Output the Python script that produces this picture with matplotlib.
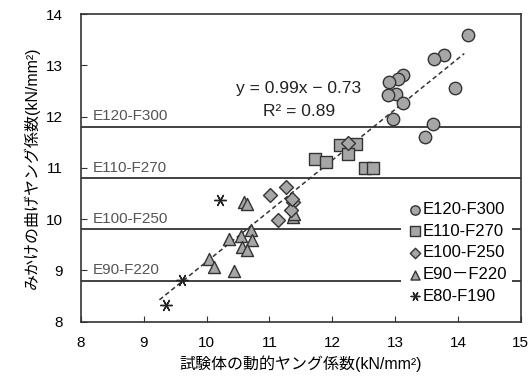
import matplotlib
matplotlib.use("Agg")
import matplotlib.pyplot as plt
import numpy as np

plt.rcParams['font.family'] = ['Liberation Sans', 'Noto Sans CJK JP']

# E120-F300
c_x = [14.16, 13.77, 13.62, 13.13, 13.05, 12.90, 13.02, 12.88, 13.13, 13.96, 12.96, 13.61, 13.48]
c_y = [13.60, 13.21, 13.13, 12.81, 12.74, 12.67, 12.45, 12.42, 12.26, 12.55, 11.96, 11.85, 11.60]
# E110-F270
s_x = [11.73, 11.90, 12.12, 12.38, 12.25, 12.52, 12.65]
s_y = [11.18, 11.12, 11.44, 11.47, 11.28, 11.00, 11.00]
# E100-F250
d_x = [12.25, 11.01, 11.26, 11.37, 11.34, 11.14, 11.36]
d_y = [11.49, 10.48, 10.63, 10.33, 10.17, 9.99, 10.39]
# E90-F220
t_x = [10.60, 10.65, 11.37, 11.39, 10.36, 10.54, 10.70, 10.73, 10.57, 10.65, 10.04, 10.12, 10.44]
t_y = [10.33, 10.30, 10.04, 10.10, 9.62, 9.68, 9.78, 9.59, 9.46, 9.40, 9.23, 9.07, 8.99]
# E80-F190
a_x = [10.21, 9.61, 9.36]
a_y = [10.37, 8.82, 8.32]

grades = ['E120-F300', 'E110-F270', 'E100-F250', 'E90-F220']
grade_lines = [11.8, 10.8, 9.8, 8.8]
slope, icpt = 0.99, -0.73

fig = plt.figure(figsize=(5.32, 3.79), dpi=100)
ax = fig.add_axes([0.152, 0.151, 0.827, 0.812])

for g, yv in zip(grades, grade_lines):
    ax.axhline(yv, color='#333333', lw=1.3, zorder=1)
    ax.text(8.19, yv + 0.07, g, fontsize=11, color='#555555', ha='left', va='bottom')

xr = np.array([9.25, 14.1])
ax.plot(xr, slope * xr + icpt, ls=(0, (3, 2)), color='#333333', lw=1.1, zorder=2)

fc, ec = '#a6a6a6', '#333333'
ax.scatter(c_x, c_y, s=80, marker='o', fc=fc, ec=ec, lw=1.0, zorder=3, label='E120-F300')
ax.scatter(s_x, s_y, s=85, marker='s', fc=fc, ec=ec, lw=1.0, zorder=3, label='E110-F270')
ax.scatter(d_x, d_y, s=50, marker='D', fc=fc, ec=ec, lw=1.0, zorder=4, label='E100-F250')
ax.scatter(t_x, t_y, s=75, marker='^', fc=fc, ec=ec, lw=1.0, zorder=3, label='E90－F220')
ax.scatter(a_x, a_y, s=70, marker=(6, 2, 90), c='#222222', lw=1.0, zorder=3, label='E80-F190')

ax.text(11.47, 12.55, 'y = 0.99x − 0.73', fontsize=12.5, ha='center', va='center', color='#222222')
ax.text(11.47, 12.09, 'R² = 0.89', fontsize=12.5, ha='center', va='center', color='#222222')

leg = ax.legend(loc='lower right', bbox_to_anchor=(1.0, 0.015), frameon=True, fontsize=12,
                handletextpad=0.0, handlelength=1.0, labelspacing=0.4, borderpad=0.3,
                fancybox=False, edgecolor='none', facecolor='white', framealpha=1.0,
                markerscale=0.75)

ax.set_xlim(8, 15)
ax.set_ylim(8, 14)
ax.set_xticks(range(8, 16))
ax.set_yticks(range(8, 15))
ax.tick_params(direction='in', length=4, labelsize=11, color='#333333')
ax.tick_params(axis='x', pad=10)
ax.tick_params(axis='y', pad=13)
for sp in ax.spines.values():
    sp.set_color('#333333')
    sp.set_linewidth(1.2)

ax.set_xlabel('試験体の動的ヤング係数(kN/mm²)', fontsize=11.5, labelpad=4)
ax.set_ylabel('みかけの曲げヤング係数(kN/mm²)', fontsize=11.5, labelpad=4)

fig.savefig('out.png', dpi=100)
